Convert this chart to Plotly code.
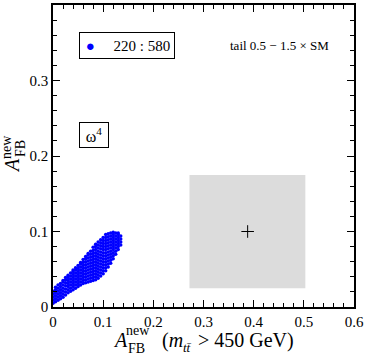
import plotly.graph_objects as go

# scan points (columns of A_FB^new(m>450) vs A_FB^new)
cloud_cols = [0.000, 0.005, 0.010, 0.015, 0.020, 0.025, 0.030, 0.035, 0.040, 0.045,
              0.050, 0.055, 0.060, 0.065, 0.070, 0.075, 0.080, 0.085, 0.090, 0.095,
              0.100, 0.105, 0.110, 0.115, 0.120, 0.125, 0.130, 0.135]
cloud_y = [
    [0.005, 0.009, 0.013, 0.017, 0.021],
    [0.007, 0.011, 0.015, 0.019, 0.023, 0.026],
    [0.009, 0.013, 0.017, 0.021, 0.025, 0.029],
    [0.011, 0.015, 0.019, 0.023, 0.027, 0.031],
    [0.013, 0.017, 0.021, 0.025, 0.029, 0.033, 0.035],
    [0.016, 0.020, 0.024, 0.028, 0.032, 0.036, 0.039],
    [0.019, 0.023, 0.027, 0.031, 0.035, 0.039, 0.042],
    [0.021, 0.025, 0.029, 0.033, 0.037, 0.041, 0.045],
    [0.023, 0.027, 0.031, 0.035, 0.039, 0.043, 0.047, 0.049],
    [0.025, 0.029, 0.033, 0.037, 0.041, 0.045, 0.049, 0.052],
    [0.027, 0.031, 0.035, 0.039, 0.043, 0.047, 0.051, 0.055],
    [0.029, 0.033, 0.037, 0.041, 0.045, 0.049, 0.053, 0.057, 0.059],
    [0.031, 0.035, 0.039, 0.043, 0.047, 0.051, 0.055, 0.059, 0.063],
    [0.032, 0.036, 0.040, 0.044, 0.048, 0.052, 0.056, 0.060, 0.064, 0.067],
    [0.033, 0.037, 0.041, 0.045, 0.049, 0.053, 0.057, 0.061, 0.065, 0.069, 0.071],
    [0.034, 0.038, 0.042, 0.046, 0.050, 0.054, 0.058, 0.062, 0.066, 0.070, 0.074],
    [0.035, 0.039, 0.043, 0.047, 0.051, 0.055, 0.059, 0.063, 0.067, 0.071, 0.075, 0.079],
    [0.036, 0.040, 0.044, 0.048, 0.052, 0.056, 0.060, 0.064, 0.068, 0.072, 0.076, 0.080, 0.083],
    [0.038, 0.042, 0.046, 0.050, 0.054, 0.058, 0.062, 0.066, 0.070, 0.074, 0.078, 0.082, 0.086],
    [0.041, 0.045, 0.049, 0.053, 0.057, 0.061, 0.065, 0.069, 0.073, 0.077, 0.081, 0.085, 0.089],
    [0.044, 0.048, 0.052, 0.056, 0.060, 0.064, 0.068, 0.072, 0.076, 0.080, 0.084, 0.088, 0.092],
    [0.048, 0.052, 0.056, 0.060, 0.064, 0.068, 0.072, 0.076, 0.080, 0.084, 0.088, 0.092, 0.096],
    [0.053, 0.057, 0.061, 0.065, 0.069, 0.073, 0.077, 0.081, 0.085, 0.089, 0.093, 0.097],
    [0.058, 0.062, 0.066, 0.070, 0.074, 0.078, 0.082, 0.086, 0.090, 0.094, 0.098],
    [0.064, 0.068, 0.072, 0.076, 0.080, 0.084, 0.088, 0.092, 0.096, 0.099],
    [0.070, 0.074, 0.078, 0.082, 0.086, 0.090, 0.094, 0.098],
    [0.076, 0.080, 0.084, 0.088, 0.092, 0.096, 0.098],
    [0.082, 0.086, 0.090, 0.094],
]

# measured value (cross) and its band
meas_x = [0.388]
meas_y = [0.100]
band_x = [0.272, 0.503]
band_y = [0.025, 0.175]

legend_label = '220 : 580'
model_label = 'ω<sup>4</sup>'
tail_label = 'tail 0.5 − 1.5 × SM'

xs, ys = [], []
for c, col in zip(cloud_cols, cloud_y):
    for v in col:
        xs.append(c)
        ys.append(v)

SERIF = 'Liberation Serif, Times New Roman, serif'

fig = go.Figure()

fig.add_shape(type='rect', xref='x', yref='y',
              x0=band_x[0], x1=band_x[1], y0=band_y[0], y1=band_y[1],
              fillcolor='#dcdcdc', line=dict(width=0), layer='below')

fig.add_trace(go.Scatter(x=xs, y=ys, mode='markers', showlegend=False,
                         marker=dict(color='#0000ff', size=3.5, line=dict(width=0))))
fig.add_trace(go.Scatter(x=meas_x, y=meas_y, mode='markers', showlegend=False,
                         marker=dict(symbol='cross-thin', size=9, color='black',
                                     line=dict(width=1, color='black'))))

axis_common = dict(
    showgrid=False, zeroline=False, showline=True, linecolor='black', linewidth=1.5,
    mirror='allticks', ticks='inside', ticklen=7, tickwidth=1, tickcolor='black',
    tickfont=dict(family=SERIF, size=15, color='black'), automargin=False,
)

fig.update_xaxes(range=[0, 0.6], tick0=0, dtick=0.1,
                 minor=dict(dtick=0.02, ticks='inside', ticklen=4, tickcolor='black'),
                 **axis_common)
fig.update_yaxes(range=[0, 0.4], tick0=0, dtick=0.1,
                 minor=dict(dtick=0.02, ticks='inside', ticklen=4, tickcolor='black'),
                 **axis_common)

L, T, W, H = 53, 5, 301, 302


def px(x):
    return (x - L) / W


def py(y):
    return (T + H - y) / H


def note(text, x, y, size, **kw):
    d = dict(text=text, x=px(x), y=py(y), xref='paper', yref='paper', showarrow=False,
             xanchor='center', yanchor='middle',
             font=dict(family=SERIF, size=size, color='black'))
    d.update(kw)
    fig.add_annotation(**d)


# x-axis title: A_FB^new (m_tt > 450 GeV)
note('<i>A</i>', 120, 340, 20)
note('new', 137.5, 330, 14)
note('FB', 136.5, 348, 14)
note('(<i>m</i>', 160, 340, 20, xanchor='left')
note('<i>tt̄</i>', 187, 347, 13)
note('&gt; 450 GeV)', 196, 340, 20, xanchor='left')

# y-axis title
note('<i>A</i>', 12, 166, 20, textangle=-90)
note('new', 6, 147, 14, textangle=-90)
note('FB', 20, 149, 14, textangle=-90)

# legend-like box
note("&nbsp;<span style='color:#0000ff'>●</span>&nbsp;&nbsp;&nbsp;&nbsp;&nbsp;" + legend_label,
     79, 32, 15, xanchor='left', yanchor='top', align='left', width=90, height=21,
     bordercolor='black', borderwidth=1, borderpad=2)
note(model_label, 79, 122, 16, xanchor='left', yanchor='top', width=24, height=20,
     bordercolor='black', borderwidth=1, borderpad=2)
note(tail_label, 279, 45, 13)

fig.update_layout(
    width=365, height=355,
    margin=dict(l=L, r=365 - L - W, t=T, b=355 - T - H),
    paper_bgcolor='white', plot_bgcolor='white',
)

# the page's default 8px body margin would shift the whole figure
fig.write_html('out.html', config={'displayModeBar': False},
               post_script="document.body.style.margin='0';")
